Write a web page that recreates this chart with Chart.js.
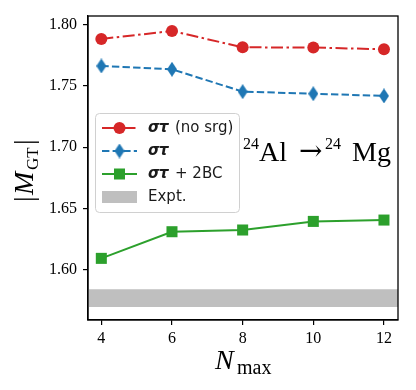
<!DOCTYPE html>
<html>
<head>
<meta charset="utf-8">
<script src="https://cdn.jsdelivr.net/npm/chart.js@4.4.1/dist/chart.umd.min.js"></script>
<style>
  html, body { margin: 0; padding: 0; background: #fff; }
  #wrap { width: 416px; height: 390px; }
</style>
</head>
<body>
<div id="wrap"><canvas id="gtChart" width="416" height="390"></canvas></div>
<script>
// N_max values on the x axis
const nmax = [4, 6, 8, 10, 12];
// |M_GT|
const noSrg = [1.7882, 1.7947, 1.7814, 1.7812, 1.7798];
const sigmaTau = [1.7662, 1.7635, 1.7453, 1.7436, 1.7418];
const sigmaTau2BC = [1.6095, 1.6312, 1.6326, 1.6396, 1.6407];
// experimental band (lower, upper)
const exptBand = [1.5699, 1.5843];
const xRange = [3.623, 12.397];
const yRange = [1.5593, 1.8069];
const yTicks = [1.60, 1.65, 1.70, 1.75, 1.80];

const RED = '#d62728', BLUE = '#1f77b4', GREEN = '#2ca02c', GREY = '#bfbfbf';
const redDash = [12, 3.5, 2.5, 3.5];
const blueDash = [7.4, 3.2];

// thin diamond marker like matplotlib 'd'
function thinDiamond(w, h, color) {
    const c = document.createElement('canvas');
    c.width = w; c.height = h;
    const g = c.getContext('2d');
    g.fillStyle = color;
    g.beginPath();
    g.moveTo(w / 2, 0);
    g.lineTo(w, h / 2);
    g.lineTo(w / 2, h);
    g.lineTo(0, h / 2);
    g.closePath();
    g.fill();
    return c;
}
const diamond = thinDiamond(10, 15, BLUE);

function pts(ys) {
    return nmax.map((x, i) => ({ x: x, y: ys[i] }));
}

// frame, legend, annotation and axis titles
const decorations = {
    id: 'decorations',
    afterDraw(chart) {
        const ctx = chart.ctx;
        const a = chart.chartArea;
        ctx.save();

        // frame
        ctx.strokeStyle = '#000';
        ctx.lineWidth = 1.3;
        ctx.strokeRect(a.left, a.top, a.right - a.left, a.bottom - a.top);

        // legend box
        const lx = 95, ly = 113, lw = 144, lh = 99;
        ctx.beginPath();
        ctx.roundRect(lx + 0.5, ly + 0.5, lw, lh, 4);
        ctx.fillStyle = 'rgba(255,255,255,0.85)';
        ctx.fill();
        ctx.strokeStyle = '#d0d0d0';
        ctx.lineWidth = 1;
        ctx.stroke();

        const hx0 = 102, hx1 = 137, hc = (hx0 + hx1) / 2, tx = 148;
        const rows = [128, 151, 174, 197];
        ctx.textBaseline = 'middle';

        // row 1: red dash-dot with circle
        ctx.strokeStyle = RED; ctx.lineWidth = 2; ctx.setLineDash(redDash);
        ctx.beginPath(); ctx.moveTo(hx0, rows[0]); ctx.lineTo(hx1, rows[0]); ctx.stroke();
        ctx.setLineDash([]);
        ctx.fillStyle = RED;
        ctx.beginPath(); ctx.arc(hc, rows[0], 6, 0, Math.PI * 2); ctx.fill();

        // row 2: blue dashed with diamond
        ctx.strokeStyle = BLUE; ctx.setLineDash(blueDash);
        ctx.beginPath(); ctx.moveTo(hx0, rows[1]); ctx.lineTo(hx1, rows[1]); ctx.stroke();
        ctx.setLineDash([]);
        ctx.drawImage(diamond, hc - 5, rows[1] - 7.5);

        // row 3: green solid with square
        ctx.strokeStyle = GREEN;
        ctx.beginPath(); ctx.moveTo(hx0, rows[2]); ctx.lineTo(hx1, rows[2]); ctx.stroke();
        ctx.fillStyle = GREEN;
        ctx.fillRect(hc - 5.5, rows[2] - 5.5, 11, 11);

        // row 4: grey patch
        ctx.fillStyle = GREY;
        ctx.fillRect(hx0, rows[3] - 6, hx1 - hx0, 12);

        // legend text
        ctx.fillStyle = '#1a1a1a';
        ctx.textAlign = 'left';
        const bold = 'italic bold 15px "DejaVu Sans"';
        const reg = '15px "DejaVu Sans"';
        ctx.font = bold; ctx.fillText('σ', tx, rows[0]);
        ctx.fillText('τ', tx + 11, rows[0]);
        ctx.font = reg; ctx.fillText('(no srg)', tx + 27, rows[0]);
        ctx.font = bold; ctx.fillText('σ', tx, rows[1]);
        ctx.fillText('τ', tx + 11, rows[1]);
        ctx.fillText('σ', tx, rows[2]);
        ctx.fillText('τ', tx + 11, rows[2]);
        ctx.font = reg; ctx.fillText('+ 2BC', tx + 27, rows[2]);
        ctx.fillText('Expt.', tx, rows[3]);

        // reaction annotation
        ctx.fillStyle = '#000';
        ctx.textBaseline = 'alphabetic';
        const big = '28px "Liberation Serif"';
        const sup = '16px "Liberation Serif"';
        ctx.font = sup; ctx.fillText('24', 243, 149);
        ctx.font = big; ctx.fillText('Al', 259, 161);
        ctx.font = '28px "DejaVu Serif"'; ctx.fillText('→', 299, 160);
        ctx.font = sup; ctx.fillText('24', 325, 149);
        ctx.font = big; ctx.fillText('Mg', 352, 161);

        // x axis title N_max
        ctx.font = 'italic 28px "Liberation Serif"';
        ctx.fillText('N', 215, 369);
        ctx.font = '20px "Liberation Serif"';
        ctx.fillText('max', 237, 374);

        // y axis title |M_GT|
        ctx.translate(33, 168);
        ctx.rotate(-Math.PI / 2);
        ctx.textAlign = 'left';
        ctx.font = '28px "Liberation Serif"';
        let x = -34;
        ctx.fillText('|', x, 0); x += 7;
        ctx.font = 'italic 28px "Liberation Serif"';
        ctx.fillText('M', x, 0); x += 25;
        ctx.font = '17px "Liberation Serif"';
        ctx.fillText('GT', x, 5); x += 25;
        ctx.font = '28px "Liberation Serif"';
        ctx.fillText('|', x, 0);

        ctx.restore();
    }
};

const ctx = document.getElementById('gtChart').getContext('2d');
new Chart(ctx, {
    type: 'line',
    data: {
        datasets: [
            {
                label: 'στ (no srg)',
                data: pts(noSrg),
                borderColor: RED,
                backgroundColor: RED,
                borderWidth: 2,
                borderDash: redDash,
                pointStyle: 'circle',
                pointRadius: 6,
                pointBorderWidth: 0,
                fill: false
            },
            {
                label: 'στ',
                data: pts(sigmaTau),
                borderColor: BLUE,
                backgroundColor: BLUE,
                borderWidth: 2,
                borderDash: blueDash,
                pointStyle: diamond,
                fill: false
            },
            {
                label: 'στ + 2BC',
                data: pts(sigmaTau2BC),
                borderColor: GREEN,
                backgroundColor: GREEN,
                borderWidth: 2,
                pointStyle: 'rect',
                pointRadius: 7.8,
                pointBorderWidth: 0,
                fill: false
            },
            {
                label: 'Expt. low',
                data: [{ x: xRange[0], y: exptBand[0] }, { x: xRange[1], y: exptBand[0] }],
                borderWidth: 0,
                pointRadius: 0,
                borderColor: 'rgba(0,0,0,0)',
                fill: false
            },
            {
                label: 'Expt.',
                data: [{ x: xRange[0], y: exptBand[1] }, { x: xRange[1], y: exptBand[1] }],
                borderWidth: 0,
                pointRadius: 0,
                borderColor: 'rgba(0,0,0,0)',
                backgroundColor: GREY,
                fill: '-1'
            }
        ]
    },
    options: {
        responsive: false,
        animation: false,
        layout: { padding: { left: 0, right: 18, top: 16, bottom: 0 } },
        plugins: {
            legend: { display: false },
            tooltip: { enabled: false }
        },
        scales: {
            x: {
                type: 'linear',
                min: xRange[0],
                max: xRange[1],
                afterBuildTicks(scale) {
                    scale.ticks = nmax.map(v => ({ value: v }));
                },
                afterFit(scale) { scale.height = 70; },
                ticks: {
                    color: '#000',
                    font: { family: 'Liberation Serif', size: 16 },
                    padding: 4,
                    maxRotation: 0,
                    callback: v => String(v)
                },
                grid: { drawOnChartArea: false, drawTicks: true, tickLength: 5, color: '#000', lineWidth: 1.2 },
                border: { display: true, color: '#000', width: 1.3 }
            },
            y: {
                min: yRange[0],
                max: yRange[1],
                afterBuildTicks(scale) {
                    scale.ticks = yTicks.map(v => ({ value: v }));
                },
                afterFit(scale) { scale.width = 88; },
                ticks: {
                    color: '#000',
                    font: { family: 'Liberation Serif', size: 16 },
                    padding: 6,
                    callback: v => v.toFixed(2)
                },
                grid: { drawOnChartArea: false, drawTicks: true, tickLength: 5, color: '#000', lineWidth: 1.2 },
                border: { display: true, color: '#000', width: 1.3 }
            }
        }
    },
    plugins: [decorations]
});
</script>
</body>
</html>
